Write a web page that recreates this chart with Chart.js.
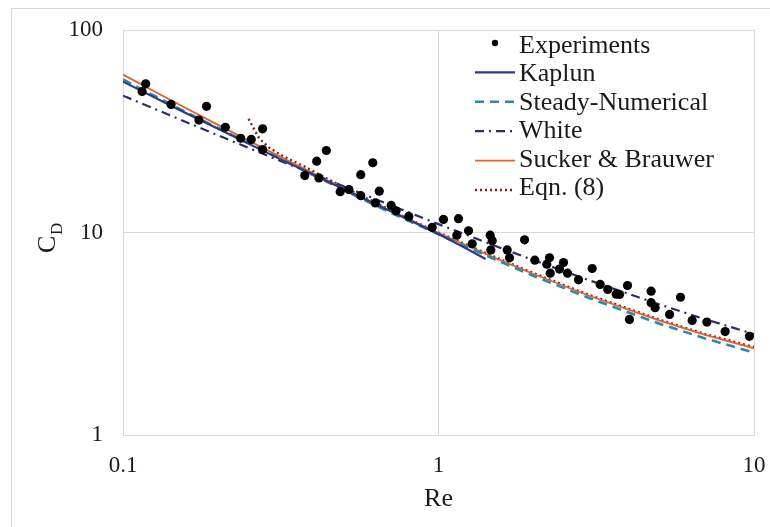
<!DOCTYPE html>
<html lang="en">
<head>
<meta charset="UTF-8">
<title>Drag coefficient vs Reynolds number</title>
<script src="https://cdn.jsdelivr.net/npm/chart.js"></script>
<style>
  html, body { margin: 0; padding: 0; background: #fff; }
  #wrap { width: 770px; height: 527px; }
</style>
</head>
<body>
<div id="wrap"><canvas id="myChart" width="770" height="527"></canvas></div>
<script>
  const expRe = [0.118, 0.115, 0.142, 0.184, 0.174, 0.211, 0.236, 0.255, 0.277, 0.277,
                 0.377, 0.411, 0.441, 0.418, 0.488, 0.520, 0.567, 0.619, 0.567, 0.649,
                 0.631, 0.708, 0.734, 0.805, 0.955, 1.037, 1.157, 1.143, 1.245, 1.279,
                 1.458, 1.480, 1.465, 1.651, 1.679, 1.874, 2.020, 2.248, 2.204, 2.260,
                 2.490, 2.418, 2.564, 2.778, 3.070, 3.254, 3.440, 3.658, 3.748, 3.972,
                 4.030, 4.720, 4.720, 4.860, 5.400, 5.850, 6.370, 7.090, 8.100, 9.670];
  const expCd = [54.2, 49.7, 42.9, 42.0, 35.9, 33.1, 29.2, 28.8, 32.5, 25.7,
                 19.1, 22.5, 25.4, 18.6, 15.9, 16.3, 19.3, 22.1, 15.2, 16.0,
                 14.0, 13.6, 12.8, 12.0, 10.6, 11.6, 11.7, 9.7, 10.2, 8.8,
                 9.7, 9.1, 8.2, 8.2, 7.5, 9.2, 7.3, 7.5, 6.97, 6.3,
                 7.1, 6.6, 6.3, 5.84, 6.64, 5.54, 5.23, 4.96, 4.94, 5.47,
                 3.72, 5.13, 4.50, 4.25, 3.94, 4.79, 3.68, 3.61, 3.24, 3.07];

  // Correlation curves
  const reLines   = [0.1, 0.15, 0.2, 0.3, 0.5, 0.7, 1, 1.5, 2, 3, 5, 7, 10];
  const steadyCd  = [57.0, 41.0, 32.8, 24.0, 16.2, 12.6, 9.8, 7.4, 6.1, 4.75, 3.55, 3.0, 2.55];
  const whiteCd   = [47.4, 36.4, 30.2, 23.3, 16.9, 13.7, 11.0, 8.63, 7.30, 5.81, 4.42, 3.73, 3.15];
  const suckerCd  = [60.2, 43.0, 34.0, 24.6, 16.55, 12.86, 9.94, 7.52, 6.24, 4.87, 3.68, 3.12, 2.68];
  const kaplunRe  = [0.1, 0.15, 0.2, 0.3, 0.5, 0.7, 1, 1.2, 1.41];
  const kaplunCd  = [55.6, 40.5, 32.5, 23.9, 16.4, 12.8, 9.83, 8.48, 7.40];
  const eqnRe     = [0.25, 0.27, 0.29, 0.32, 0.38, 0.45, 0.6, 0.8, 1, 1.5, 2, 3, 5, 7, 10];
  const eqnCd     = [36.4, 29.2, 26.3, 23.9, 21.0, 18.2, 14.6, 11.7, 10.0, 7.6, 6.3, 4.92, 3.72, 3.15, 2.72];

  const xTicks = [0.1, 1, 10];
  const yTicks = [1, 10, 100];

  const pts = (xs, ys) => xs.map((x, i) => ({ x: x, y: ys[i] }));
  const serif = "'Times New Roman', 'Liberation Serif', serif";
  const gridGray = '#d9d9d9';

  // border, y title with subscript, and the legend drawn by hand
  const decor = {
    id: 'decor',
    beforeDraw(chart) {
      const ctx = chart.ctx;
      ctx.save();
      ctx.strokeStyle = gridGray;
      ctx.lineWidth = 1;
      ctx.strokeRect(11.5, 8.5, 900, 700);
      ctx.restore();
    },
    afterDraw(chart) {
      const ctx = chart.ctx;
      ctx.save();
      // C_D
      ctx.translate(55, 253);
      ctx.rotate(-Math.PI / 2);
      ctx.fillStyle = '#1a1a1a';
      ctx.textBaseline = 'alphabetic';
      ctx.textAlign = 'left';
      ctx.font = '26px ' + serif;
      ctx.fillText('C', 0, 0);
      ctx.font = '17px ' + serif;
      ctx.fillText('D', 18, 7);
      ctx.restore();

      // legend
      ctx.save();
      ctx.font = '26px ' + serif;
      ctx.textBaseline = 'alphabetic';
      ctx.textAlign = 'left';
      chart.data.datasets.forEach((ds, i) => {
        const sy = 43 + i * 29.4;
        const ty = 53 + i * 28.4;
        if (ds.showLine) {
          ctx.strokeStyle = ds.borderColor;
          ctx.lineWidth = ds.borderWidth;
          ctx.setLineDash(ds.borderDash || []);
          ctx.beginPath();
          ctx.moveTo(475, sy);
          ctx.lineTo(515, sy);
          ctx.stroke();
          ctx.setLineDash([]);
        } else {
          ctx.fillStyle = ds.backgroundColor;
          ctx.beginPath();
          ctx.arc(495, sy, 3.2, 0, Math.PI * 2);
          ctx.fill();
        }
        ctx.fillStyle = '#1a1a1a';
        ctx.fillText(ds.label, 519, ty);
      });
      ctx.restore();
    }
  };

  const ctx = document.getElementById('myChart').getContext('2d');
  const myChart = new Chart(ctx, {
    type: 'scatter',
    data: {
      datasets: [
        { label: 'Experiments', data: pts(expRe, expCd), showLine: false,
          backgroundColor: '#000', borderColor: '#000', pointRadius: 4.6, borderWidth: 0 },
        { label: 'Kaplun', data: pts(kaplunRe, kaplunCd), showLine: true, pointRadius: 0,
          borderColor: '#2b3a8c', borderWidth: 2.2 },
        { label: 'Steady-Numerical', data: pts(reLines, steadyCd), showLine: true, pointRadius: 0,
          borderColor: '#2a8aab', borderWidth: 2.6, borderDash: [9, 6] },
        { label: 'White', data: pts(reLines, whiteCd), showLine: true, pointRadius: 0,
          borderColor: '#2e2a6b', borderWidth: 2.2, borderDash: [9, 5, 2, 5] },
        { label: 'Sucker & Brauwer', data: pts(reLines, suckerCd), showLine: true, pointRadius: 0,
          borderColor: '#e4612a', borderWidth: 1.8 },
        { label: 'Eqn. (8)', data: pts(eqnRe, eqnCd), showLine: true, pointRadius: 0,
          borderColor: '#8b1c1c', borderWidth: 2.4, borderDash: [2, 3] }
      ]
    },
    options: {
      responsive: false,
      animation: false,
      layout: { padding: { top: 30, right: 16, left: 0, bottom: 0 } },
      plugins: { legend: { display: false }, tooltip: { enabled: false } },
      scales: {
        x: {
          type: 'logarithmic', min: 0.1, max: 10,
          afterBuildTicks: s => { s.ticks = xTicks.map(v => ({ value: v })); },
          afterFit: s => { s.height = 92; s.paddingLeft = 0; s.paddingRight = 0; },
          grid: { color: gridGray, drawTicks: false },
          border: { color: gridGray },
          ticks: { padding: 17, color: '#1a1a1a', font: { family: serif, size: 23 },
                   maxRotation: 0, autoSkip: false, callback: v => String(v) },
          title: { display: true, text: 'Re', color: '#1a1a1a',
                   font: { family: serif, size: 26 }, padding: { top: 0, bottom: 12 } }
        },
        y: {
          type: 'logarithmic', min: 1, max: 100,
          afterBuildTicks: s => { s.ticks = yTicks.map(v => ({ value: v })); },
          afterFit: s => { s.width = 123; s.paddingTop = 0; s.paddingBottom = 0; },
          grid: { color: gridGray, drawTicks: false },
          border: { color: gridGray },
          ticks: { padding: 20, color: '#1a1a1a', font: { family: serif, size: 23 },
                   autoSkip: false, callback: v => String(v) }
        }
      }
    },
    plugins: [decor]
  });
</script>
</body>
</html>
